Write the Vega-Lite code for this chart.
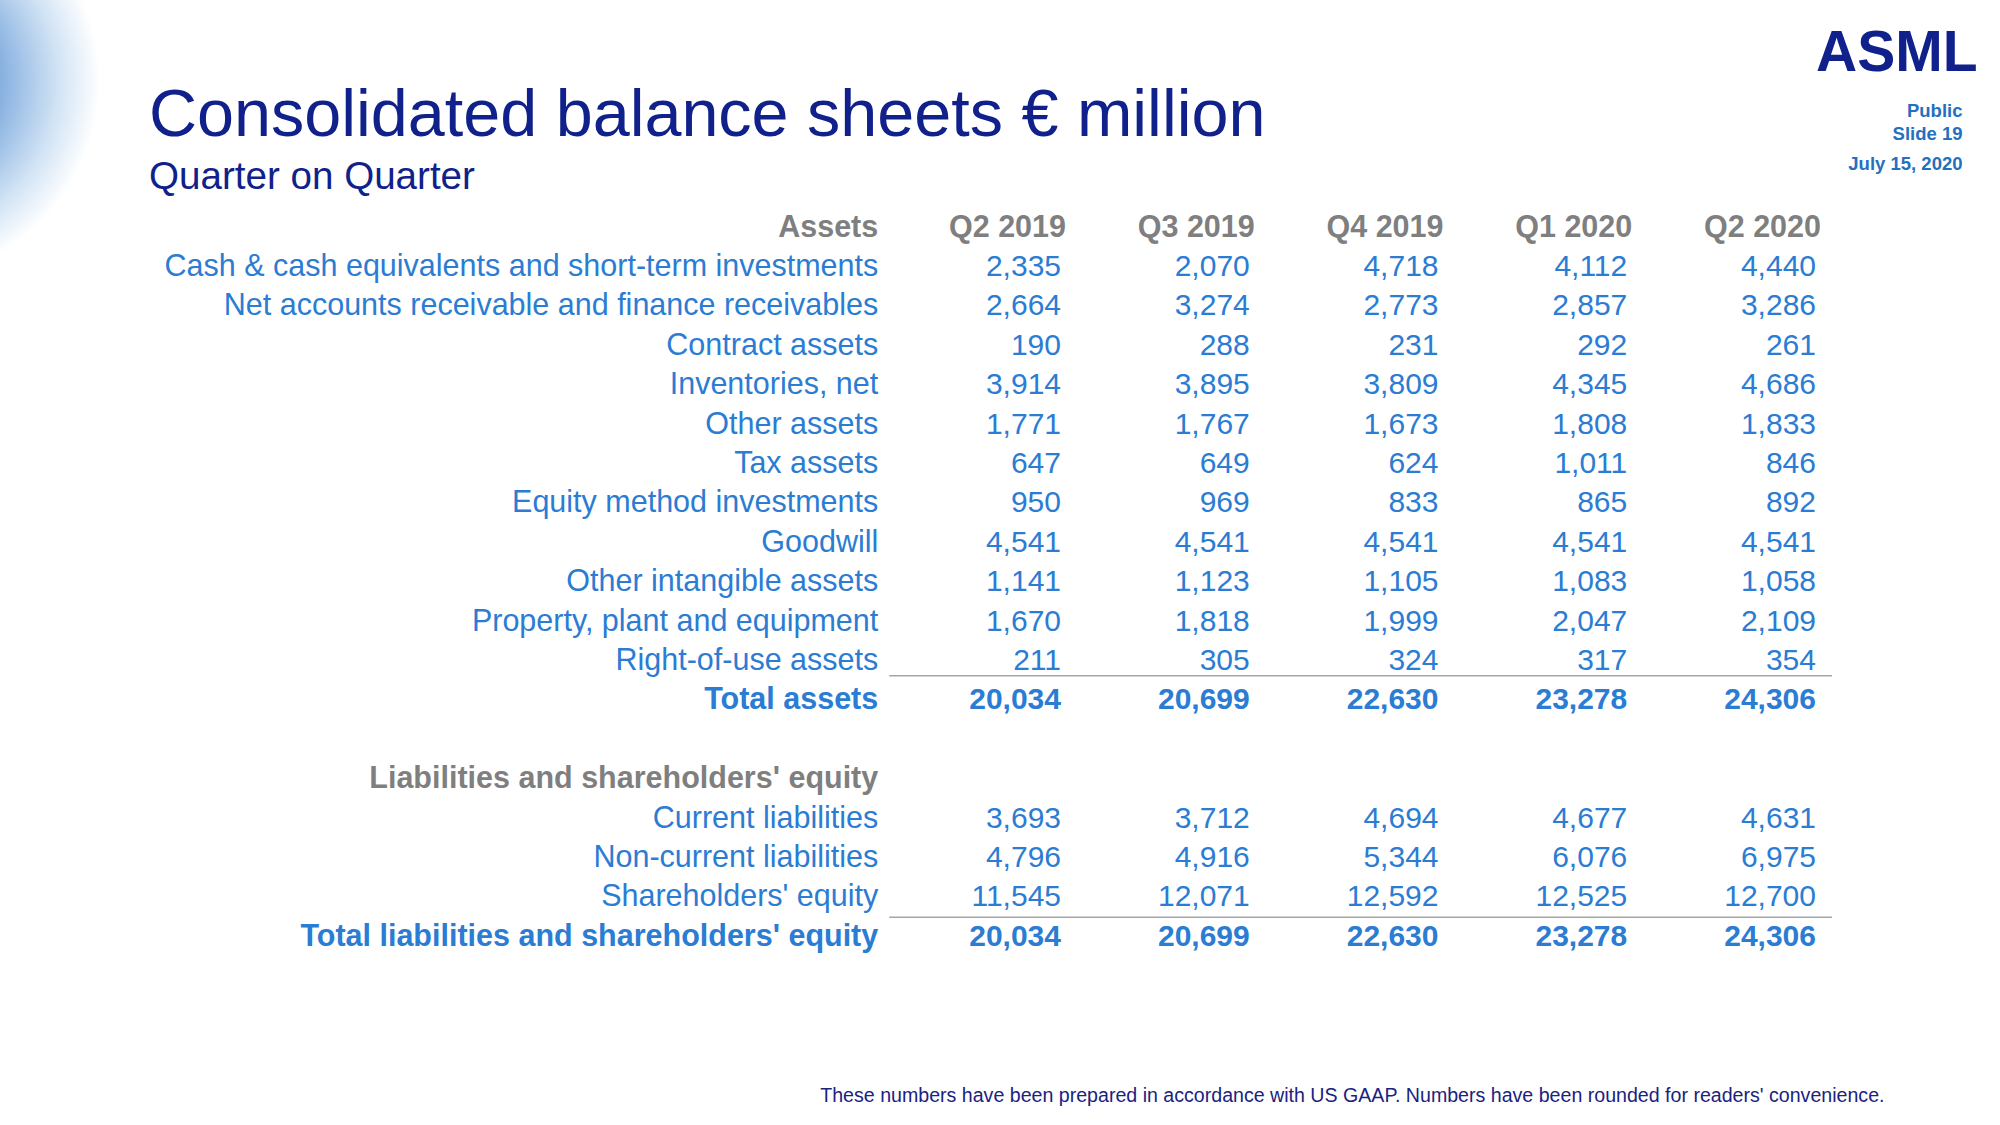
{
  "$schema": "https://vega.github.io/schema/vega-lite/v6.json",
  "width": 2000,
  "height": 1125,
  "padding": 0,
  "autosize": {"type": "none"},
  "background": "white",
  "view": {
    "stroke": null,
    "fill": {
      "gradient": "radial",
      "x1": -0.05, "y1": 0.259, "r1": 0,
      "x2": -0.05, "y2": 0.259, "r2": 0.1,
      "stops": [
        {"offset": 0, "color": "#4a82c9"},
        {"offset": 0.5, "color": "#86b0e0"},
        {"offset": 0.8, "color": "#d3e4f5"},
        {"offset": 1, "color": "#ffffff"}
      ]
    }
  },
  "config": {"font": "Liberation Sans"},
  "title": {
    "text": "Consolidated balance sheets € million",
    "subtitle": "Quarter on Quarter",
    "anchor": "start",
    "frame": "group",
    "orient": "top",
    "dx": 149,
    "offset": -197,
    "font": "Liberation Sans",
    "fontSize": 66.5,
    "fontWeight": "normal",
    "color": "#10218b",
    "subtitleFont": "Liberation Sans",
    "subtitleFontSize": 38.6,
    "subtitleColor": "#10218b",
    "subtitlePadding": 10
  },
  "datasets": {
    "items": [
      {"item": "Assets", "kind": "section"},
      {"item": "Cash & cash equivalents and short-term investments", "kind": "normal"},
      {"item": "Net accounts receivable and finance receivables", "kind": "normal"},
      {"item": "Contract assets", "kind": "normal"},
      {"item": "Inventories, net", "kind": "normal"},
      {"item": "Other assets", "kind": "normal"},
      {"item": "Tax assets", "kind": "normal"},
      {"item": "Equity method investments", "kind": "normal"},
      {"item": "Goodwill", "kind": "normal"},
      {"item": "Other intangible assets", "kind": "normal"},
      {"item": "Property, plant and equipment", "kind": "normal"},
      {"item": "Right-of-use assets", "kind": "normal"},
      {"item": "Total assets", "kind": "total"},
      {"item": "Liabilities and shareholders' equity", "kind": "section"},
      {"item": "Current liabilities", "kind": "normal"},
      {"item": "Non-current liabilities", "kind": "normal"},
      {"item": "Shareholders' equity", "kind": "normal"},
      {"item": "Total liabilities and shareholders' equity", "kind": "total"}
    ],
    "balance": [
      {"item": "Cash & cash equivalents and short-term investments", "kind": "normal", "Q2 2019": 2335, "Q3 2019": 2070, "Q4 2019": 4718, "Q1 2020": 4112, "Q2 2020": 4440},
      {"item": "Net accounts receivable and finance receivables", "kind": "normal", "Q2 2019": 2664, "Q3 2019": 3274, "Q4 2019": 2773, "Q1 2020": 2857, "Q2 2020": 3286},
      {"item": "Contract assets", "kind": "normal", "Q2 2019": 190, "Q3 2019": 288, "Q4 2019": 231, "Q1 2020": 292, "Q2 2020": 261},
      {"item": "Inventories, net", "kind": "normal", "Q2 2019": 3914, "Q3 2019": 3895, "Q4 2019": 3809, "Q1 2020": 4345, "Q2 2020": 4686},
      {"item": "Other assets", "kind": "normal", "Q2 2019": 1771, "Q3 2019": 1767, "Q4 2019": 1673, "Q1 2020": 1808, "Q2 2020": 1833},
      {"item": "Tax assets", "kind": "normal", "Q2 2019": 647, "Q3 2019": 649, "Q4 2019": 624, "Q1 2020": 1011, "Q2 2020": 846},
      {"item": "Equity method investments", "kind": "normal", "Q2 2019": 950, "Q3 2019": 969, "Q4 2019": 833, "Q1 2020": 865, "Q2 2020": 892},
      {"item": "Goodwill", "kind": "normal", "Q2 2019": 4541, "Q3 2019": 4541, "Q4 2019": 4541, "Q1 2020": 4541, "Q2 2020": 4541},
      {"item": "Other intangible assets", "kind": "normal", "Q2 2019": 1141, "Q3 2019": 1123, "Q4 2019": 1105, "Q1 2020": 1083, "Q2 2020": 1058},
      {"item": "Property, plant and equipment", "kind": "normal", "Q2 2019": 1670, "Q3 2019": 1818, "Q4 2019": 1999, "Q1 2020": 2047, "Q2 2020": 2109},
      {"item": "Right-of-use assets", "kind": "normal", "Q2 2019": 211, "Q3 2019": 305, "Q4 2019": 324, "Q1 2020": 317, "Q2 2020": 354},
      {"item": "Total assets", "kind": "total", "Q2 2019": 20034, "Q3 2019": 20699, "Q4 2019": 22630, "Q1 2020": 23278, "Q2 2020": 24306},
      {"item": "Current liabilities", "kind": "normal", "Q2 2019": 3693, "Q3 2019": 3712, "Q4 2019": 4694, "Q1 2020": 4677, "Q2 2020": 4631},
      {"item": "Non-current liabilities", "kind": "normal", "Q2 2019": 4796, "Q3 2019": 4916, "Q4 2019": 5344, "Q1 2020": 6076, "Q2 2020": 6975},
      {"item": "Shareholders' equity", "kind": "normal", "Q2 2019": 11545, "Q3 2019": 12071, "Q4 2019": 12592, "Q1 2020": 12525, "Q2 2020": 12700},
      {"item": "Total liabilities and shareholders' equity", "kind": "total", "Q2 2019": 20034, "Q3 2019": 20699, "Q4 2019": 22630, "Q1 2020": 23278, "Q2 2020": 24306}
    ],
    "quarters": [
      {"quarter": "Q2 2019"}, {"quarter": "Q3 2019"}, {"quarter": "Q4 2019"}, {"quarter": "Q1 2020"}, {"quarter": "Q2 2020"}
    ]
  },
  "layer": [
    {
      "data": {"name": "items"},
      "transform": [{"filter": "datum.kind === 'normal'"}],
      "mark": {"type": "text", "align": "right", "baseline": "middle", "fontSize": 30.5, "color": "#2b7cd3", "dx": 2, "dy": 1.5},
      "encoding": {
        "x": {
          "datum": "label", "type": "nominal", "bandPosition": 1,
          "scale": {"type": "band", "domain": ["label", "Q2 2019", "Q3 2019", "Q4 2019", "Q1 2020", "Q2 2020"], "range": [687.5, 1820], "paddingInner": 0, "paddingOuter": 0},
          "axis": {
            "orient": "bottom", "labels": false, "ticks": false, "domain": false, "grid": false,
            "title": "These numbers have been prepared in accordance with US GAAP.  Numbers have been rounded for readers' convenience.",
            "titleX": 1884, "titleY": -24, "titleAlign": "right", "titleBaseline": "alphabetic", "titleAngle": 0,
            "titleFont": "Liberation Sans", "titleFontSize": 19.6, "titleFontWeight": "normal", "titleColor": "#1a2380"
          }
        },
        "y": {
          "field": "item", "type": "nominal",
          "scale": {"type": "point", "domain": ["Assets", "Cash & cash equivalents and short-term investments", "Net accounts receivable and finance receivables", "Contract assets", "Inventories, net", "Other assets", "Tax assets", "Equity method investments", "Goodwill", "Other intangible assets", "Property, plant and equipment", "Right-of-use assets", "Total assets", "spacer", "Liabilities and shareholders' equity", "Current liabilities", "Non-current liabilities", "Shareholders' equity", "Total liabilities and shareholders' equity"], "range": [226, 935.2], "padding": 0},
          "axis": {
            "orient": "left", "labels": false, "ticks": false, "domain": false, "grid": false,
            "title": ["Public", "Slide 19"],
            "titleX": 1962, "titleY": 101, "titleAlign": "right", "titleBaseline": "top", "titleAngle": 0, "titleLineHeight": 23,
            "titleFont": "Liberation Sans", "titleFontSize": 18.5, "titleFontWeight": "bold", "titleColor": "#2470c0"
          }
        },
        "text": {"field": "item", "type": "nominal"}
      }
    },
    {
      "data": {"name": "items"},
      "transform": [{"filter": "datum.kind === 'total'"}],
      "mark": {"type": "text", "align": "right", "baseline": "middle", "fontSize": 30.5, "fontWeight": "bold", "color": "#2b7cd3", "dx": 2, "dy": 1.5},
      "encoding": {
        "x": {
          "datum": "label", "type": "nominal", "bandPosition": 1,
          "axis": {
            "orient": "top", "labels": false, "ticks": false, "domain": false, "grid": false,
            "title": "ASML",
            "titleX": 1977, "titleY": 70, "titleAlign": "right", "titleBaseline": "alphabetic", "titleAngle": 0,
            "titleFont": "Liberation Sans", "titleFontSize": 57, "titleFontWeight": "bold", "titleColor": "#10218b"
          }
        },
        "y": {
          "field": "item", "type": "nominal",
          "axis": {
            "orient": "right", "labels": false, "ticks": false, "domain": false, "grid": false,
            "title": "July 15, 2020",
            "titleX": -38, "titleY": 154, "titleAlign": "right", "titleBaseline": "top", "titleAngle": 0,
            "titleFont": "Liberation Sans", "titleFontSize": 18.5, "titleFontWeight": "bold", "titleColor": "#2470c0"
          }
        },
        "text": {"field": "item", "type": "nominal"}
      }
    },
    {
      "data": {"name": "items"},
      "transform": [{"filter": "datum.kind === 'section'"}],
      "mark": {"type": "text", "align": "right", "baseline": "middle", "fontSize": 30.5, "fontWeight": "bold", "color": "#7f7f7f", "dx": 2, "dy": 1.5},
      "encoding": {
        "x": {"datum": "label", "type": "nominal", "bandPosition": 1, "axis": null},
        "y": {"field": "item", "type": "nominal", "axis": null},
        "text": {"field": "item", "type": "nominal"}
      }
    },
    {
      "data": {"name": "quarters"},
      "mark": {"type": "text", "align": "right", "baseline": "middle", "fontSize": 30.5, "fontWeight": "bold", "color": "#7f7f7f", "dx": 1, "dy": 1.5},
      "encoding": {
        "x": {"field": "quarter", "type": "nominal", "bandPosition": 1, "axis": null},
        "y": {"datum": "Assets", "type": "nominal", "axis": null},
        "text": {"field": "quarter", "type": "nominal"}
      }
    },
    {
      "data": {"name": "balance"},
      "transform": [
        {"fold": ["Q2 2019", "Q3 2019", "Q4 2019", "Q1 2020", "Q2 2020"], "as": ["quarter", "value"]},
        {"filter": "datum.kind === 'normal'"}
      ],
      "mark": {"type": "text", "align": "right", "baseline": "middle", "fontSize": 30, "color": "#2b7cd3", "dx": -4, "dy": 1.5},
      "encoding": {
        "x": {"field": "quarter", "type": "nominal", "bandPosition": 1, "axis": null},
        "y": {"field": "item", "type": "nominal", "axis": null},
        "text": {"field": "value", "type": "quantitative", "format": ",d"}
      }
    },
    {
      "data": {"name": "balance"},
      "transform": [
        {"fold": ["Q2 2019", "Q3 2019", "Q4 2019", "Q1 2020", "Q2 2020"], "as": ["quarter", "value"]},
        {"filter": "datum.kind === 'total'"}
      ],
      "mark": {"type": "text", "align": "right", "baseline": "middle", "fontSize": 30, "fontWeight": "bold", "color": "#2b7cd3", "dx": -4, "dy": 1.5},
      "encoding": {
        "x": {"field": "quarter", "type": "nominal", "bandPosition": 1, "axis": null},
        "y": {"field": "item", "type": "nominal", "axis": null},
        "text": {"field": "value", "type": "quantitative", "format": ",d"}
      }
    },
    {
      "data": {"values": [{"item": "Total assets"}]},
      "mark": {"type": "rule", "color": "#a6a6a6", "strokeWidth": 1.5, "yOffset": -23, "xOffset": 13, "x2Offset": 12},
      "encoding": {
        "x": {"datum": "Q2 2019", "type": "nominal", "bandPosition": 0, "axis": null},
        "x2": {"datum": "Q2 2020", "bandPosition": 1},
        "y": {"field": "item", "type": "nominal", "axis": null}
      }
    },
    {
      "data": {"values": [{"item": "Total liabilities and shareholders' equity"}]},
      "mark": {"type": "rule", "color": "#a6a6a6", "strokeWidth": 1.5, "yOffset": -18, "xOffset": 13, "x2Offset": 12},
      "encoding": {
        "x": {"datum": "Q2 2019", "type": "nominal", "bandPosition": 0, "axis": null},
        "x2": {"datum": "Q2 2020", "bandPosition": 1},
        "y": {"field": "item", "type": "nominal", "axis": null}
      }
    }
  ],
  "resolve": {"axis": {"x": "independent", "y": "independent"}}
}
